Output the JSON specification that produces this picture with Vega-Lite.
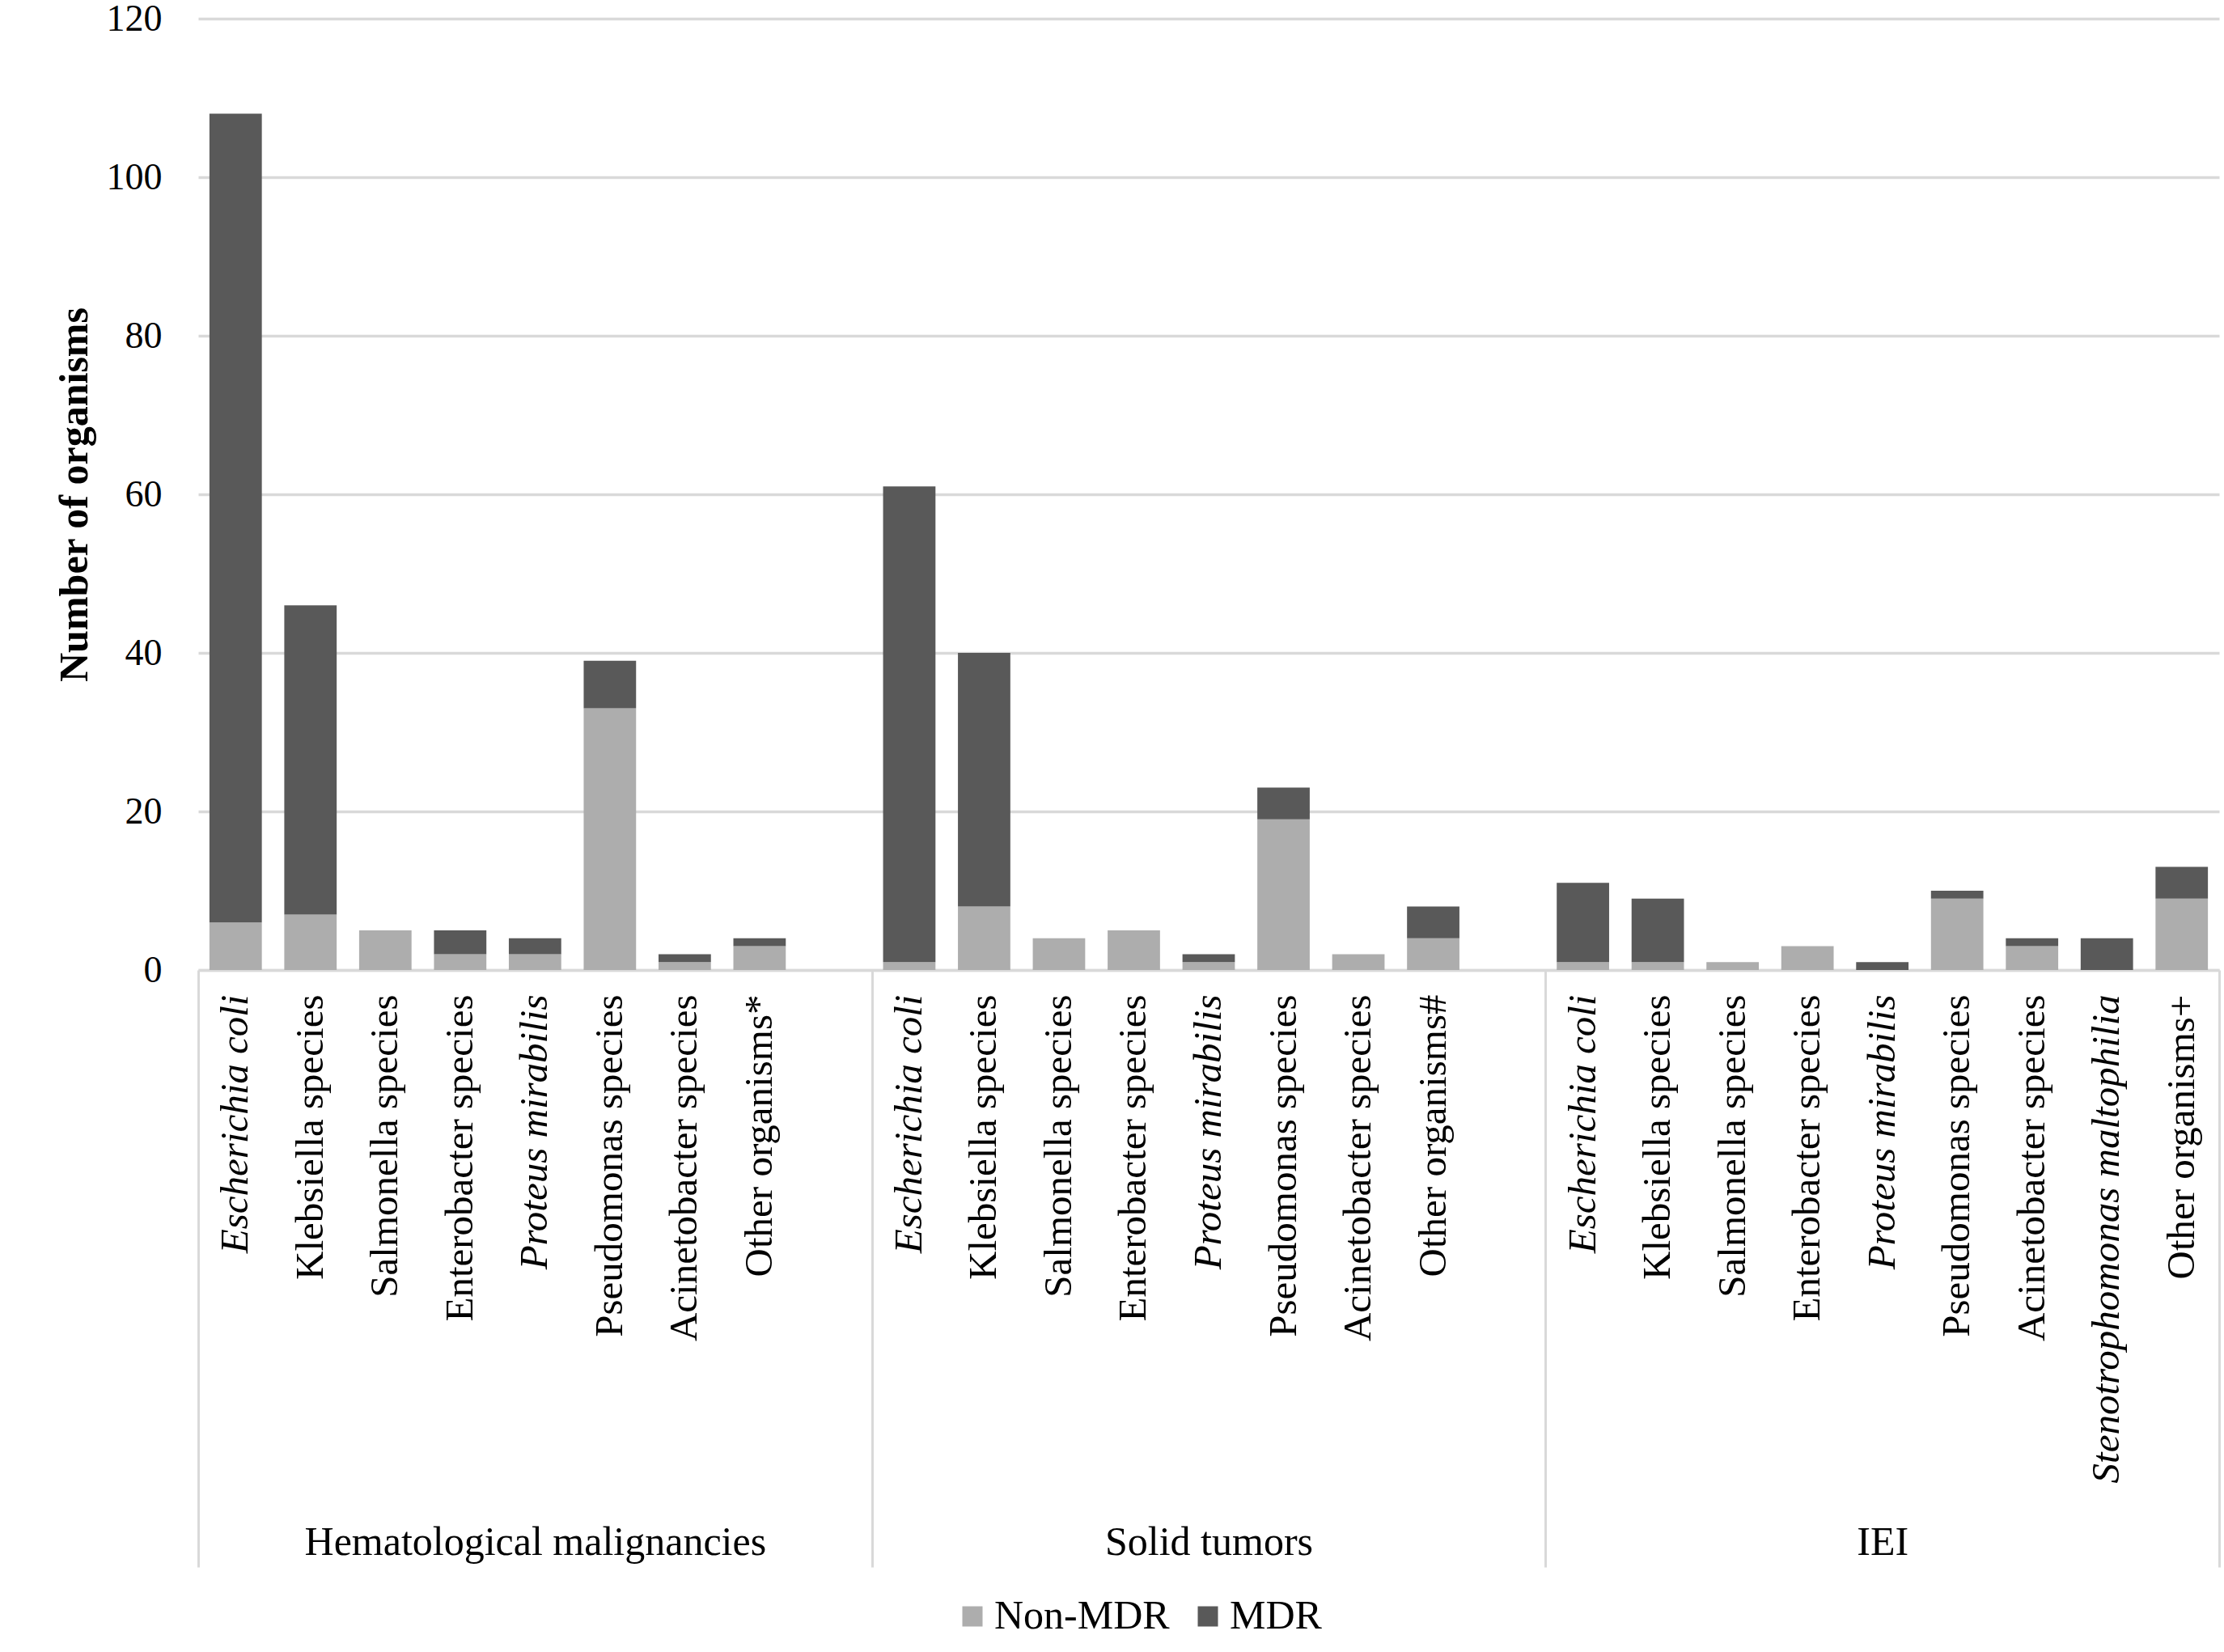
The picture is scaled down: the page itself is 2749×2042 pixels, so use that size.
{
  "$schema": "https://vega.github.io/schema/vega-lite/v6.json",
  "description": "Stacked bars of MDR and non-MDR organisms by patient group",
  "autosize": "none",
  "padding": {"left": 245, "top": 23, "right": 6, "bottom": 843},
  "width": 2498,
  "height": 1176,
  "background": "white",
  "config": {"font": "Liberation Serif", "view": {"stroke": null}},
  "data": {
    "values": [
      {"group": "Hematological malignancies", "organism": "Escherichia coli", "status": "Non-MDR", "count": 6},
      {"group": "Hematological malignancies", "organism": "Escherichia coli", "status": "MDR", "count": 102},
      {"group": "Hematological malignancies", "organism": "Klebsiella species", "status": "Non-MDR", "count": 7},
      {"group": "Hematological malignancies", "organism": "Klebsiella species", "status": "MDR", "count": 39},
      {"group": "Hematological malignancies", "organism": "Salmonella species", "status": "Non-MDR", "count": 5},
      {"group": "Hematological malignancies", "organism": "Salmonella species", "status": "MDR", "count": 0},
      {"group": "Hematological malignancies", "organism": "Enterobacter species", "status": "Non-MDR", "count": 2},
      {"group": "Hematological malignancies", "organism": "Enterobacter species", "status": "MDR", "count": 3},
      {"group": "Hematological malignancies", "organism": "Proteus mirabilis", "status": "Non-MDR", "count": 2},
      {"group": "Hematological malignancies", "organism": "Proteus mirabilis", "status": "MDR", "count": 2},
      {"group": "Hematological malignancies", "organism": "Pseudomonas species", "status": "Non-MDR", "count": 33},
      {"group": "Hematological malignancies", "organism": "Pseudomonas species", "status": "MDR", "count": 6},
      {"group": "Hematological malignancies", "organism": "Acinetobacter species", "status": "Non-MDR", "count": 1},
      {"group": "Hematological malignancies", "organism": "Acinetobacter species", "status": "MDR", "count": 1},
      {"group": "Hematological malignancies", "organism": "Other organisms*", "status": "Non-MDR", "count": 3},
      {"group": "Hematological malignancies", "organism": "Other organisms*", "status": "MDR", "count": 1},
      {"group": "Solid tumors", "organism": "Escherichia coli", "status": "Non-MDR", "count": 1},
      {"group": "Solid tumors", "organism": "Escherichia coli", "status": "MDR", "count": 60},
      {"group": "Solid tumors", "organism": "Klebsiella species", "status": "Non-MDR", "count": 8},
      {"group": "Solid tumors", "organism": "Klebsiella species", "status": "MDR", "count": 32},
      {"group": "Solid tumors", "organism": "Salmonella species", "status": "Non-MDR", "count": 4},
      {"group": "Solid tumors", "organism": "Salmonella species", "status": "MDR", "count": 0},
      {"group": "Solid tumors", "organism": "Enterobacter species", "status": "Non-MDR", "count": 5},
      {"group": "Solid tumors", "organism": "Enterobacter species", "status": "MDR", "count": 0},
      {"group": "Solid tumors", "organism": "Proteus mirabilis", "status": "Non-MDR", "count": 1},
      {"group": "Solid tumors", "organism": "Proteus mirabilis", "status": "MDR", "count": 1},
      {"group": "Solid tumors", "organism": "Pseudomonas species", "status": "Non-MDR", "count": 19},
      {"group": "Solid tumors", "organism": "Pseudomonas species", "status": "MDR", "count": 4},
      {"group": "Solid tumors", "organism": "Acinetobacter species", "status": "Non-MDR", "count": 2},
      {"group": "Solid tumors", "organism": "Acinetobacter species", "status": "MDR", "count": 0},
      {"group": "Solid tumors", "organism": "Other organisms#", "status": "Non-MDR", "count": 4},
      {"group": "Solid tumors", "organism": "Other organisms#", "status": "MDR", "count": 4},
      {"group": "IEI", "organism": "Escherichia coli", "status": "Non-MDR", "count": 1},
      {"group": "IEI", "organism": "Escherichia coli", "status": "MDR", "count": 10},
      {"group": "IEI", "organism": "Klebsiella species", "status": "Non-MDR", "count": 1},
      {"group": "IEI", "organism": "Klebsiella species", "status": "MDR", "count": 8},
      {"group": "IEI", "organism": "Salmonella species", "status": "Non-MDR", "count": 1},
      {"group": "IEI", "organism": "Salmonella species", "status": "MDR", "count": 0},
      {"group": "IEI", "organism": "Enterobacter species", "status": "Non-MDR", "count": 3},
      {"group": "IEI", "organism": "Enterobacter species", "status": "MDR", "count": 0},
      {"group": "IEI", "organism": "Proteus mirabilis", "status": "Non-MDR", "count": 0},
      {"group": "IEI", "organism": "Proteus mirabilis", "status": "MDR", "count": 1},
      {"group": "IEI", "organism": "Pseudomonas species", "status": "Non-MDR", "count": 9},
      {"group": "IEI", "organism": "Pseudomonas species", "status": "MDR", "count": 1},
      {"group": "IEI", "organism": "Acinetobacter species", "status": "Non-MDR", "count": 3},
      {"group": "IEI", "organism": "Acinetobacter species", "status": "MDR", "count": 1},
      {"group": "IEI", "organism": "Stenotrophomonas maltophilia", "status": "Non-MDR", "count": 0},
      {"group": "IEI", "organism": "Stenotrophomonas maltophilia", "status": "MDR", "count": 4},
      {"group": "IEI", "organism": "Other organisms+", "status": "Non-MDR", "count": 9},
      {"group": "IEI", "organism": "Other organisms+", "status": "MDR", "count": 4}
    ]
  },
  "transform": [
    {"calculate": "datum.group + '|' + datum.organism", "as": "slot"}
  ],
  "layer": [
    {
      "mark": {"type": "bar"},
      "encoding": {
        "x": {
          "field": "slot",
          "type": "nominal",
          "scale": {
            "domain": [
              "Hematological malignancies|Escherichia coli",
              "Hematological malignancies|Klebsiella species",
              "Hematological malignancies|Salmonella species",
              "Hematological malignancies|Enterobacter species",
              "Hematological malignancies|Proteus mirabilis",
              "Hematological malignancies|Pseudomonas species",
              "Hematological malignancies|Acinetobacter species",
              "Hematological malignancies|Other organisms*",
              "Hematological malignancies|",
              "Solid tumors|Escherichia coli",
              "Solid tumors|Klebsiella species",
              "Solid tumors|Salmonella species",
              "Solid tumors|Enterobacter species",
              "Solid tumors|Proteus mirabilis",
              "Solid tumors|Pseudomonas species",
              "Solid tumors|Acinetobacter species",
              "Solid tumors|Other organisms#",
              "Solid tumors|",
              "IEI|Escherichia coli",
              "IEI|Klebsiella species",
              "IEI|Salmonella species",
              "IEI|Enterobacter species",
              "IEI|Proteus mirabilis",
              "IEI|Pseudomonas species",
              "IEI|Acinetobacter species",
              "IEI|Stenotrophomonas maltophilia",
              "IEI|Other organisms+"
            ],
            "paddingInner": 0.3,
            "paddingOuter": 0.15
          },
          "axis": {
            "orient": "bottom",
            "title": null,
            "domain": true,
            "domainColor": "#d9d9d9",
            "domainWidth": 3.5,
            "ticks": false,
            "grid": false,
            "labelAngle": -90,
            "labelFontSize": 49,
            "labelColor": "#000000",
            "labelPadding": 30,
            "labelLimit": 0,
            "labelOverlap": false,
            "labelExpr": "split(datum.label, '|')[1]",
            "labelFontStyle": {
              "condition": {"test": "test(/Escherichia|Proteus|Stenotrophomonas/, datum.label)", "value": "italic"},
              "value": "normal"
            }
          }
        },
        "y": {
          "field": "count",
          "type": "quantitative",
          "stack": "zero",
          "scale": {"domain": [0, 120]},
          "axis": {
            "values": [0, 20, 40, 60, 80, 100, 120],
            "title": "Number of organisms",
            "titleFontSize": 50,
            "titleFontWeight": "bold",
            "titleColor": "#000000",
            "titlePadding": 14,
            "labelFontSize": 46,
            "labelColor": "#000000",
            "labelPadding": 45,
            "ticks": false,
            "domain": false,
            "grid": true,
            "gridColor": "#d9d9d9",
            "gridWidth": 3.5
          }
        },
        "color": {
          "field": "status",
          "type": "nominal",
          "scale": {"domain": ["Non-MDR", "MDR"], "range": ["#adadad", "#595959"]},
          "legend": {
            "title": null,
            "orient": "none",
            "direction": "horizontal",
            "legendX": 932,
            "legendY": 1950,
            "padding": 0,
            "labelFontSize": 50,
            "labelColor": "#000000",
            "labelLimit": 0,
            "labelOffset": 2,
            "columnPadding": 22,
            "symbolType": "square",
            "symbolSize": 625,
            "symbolStrokeWidth": 0
          }
        },
        "order": {"field": "status", "sort": "descending"}
      }
    },
    {
      "mark": {"type": "rule", "opacity": 0},
      "encoding": {
        "x": {
          "field": "group",
          "type": "nominal",
          "scale": {
            "domain": ["Hematological malignancies", "Solid tumors", "IEI"],
            "paddingInner": 0,
            "paddingOuter": 0
          },
          "axis": {
            "orient": "bottom",
            "title": null,
            "domain": false,
            "grid": false,
            "ticks": true,
            "tickBand": "extent",
            "tickSize": 738,
            "tickColor": "#d9d9d9",
            "tickWidth": 3,
            "labelAngle": 0,
            "labelFontSize": 50,
            "labelColor": "#000000",
            "labelBaseline": "middle",
            "labelPadding": -31,
            "labelLimit": 0
          }
        }
      }
    }
  ],
  "resolve": {"scale": {"x": "independent"}, "axis": {"x": "independent"}}
}
